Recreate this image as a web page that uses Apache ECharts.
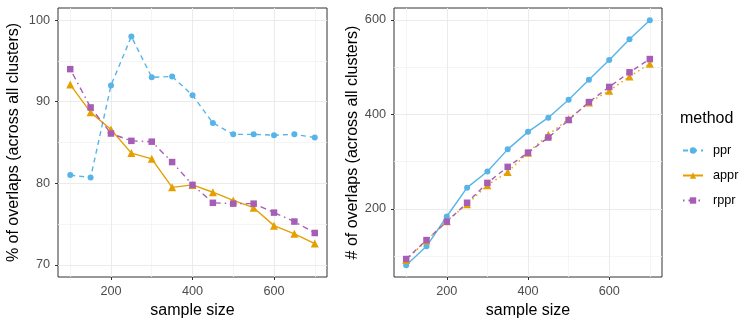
<!DOCTYPE html>
<html>
<head>
<meta charset="utf-8">
<script src="https://cdn.jsdelivr.net/npm/echarts@6/dist/echarts.min.js"></script>
<style>
  html, body { margin: 0; padding: 0; background: #fff; }
  #chart { width: 747px; height: 326px; }
</style>
</head>
<body>
<div id="chart"></div>
<script>
// sample sizes
var sampleSize = [100, 150, 200, 250, 300, 350, 400, 450, 500, 550, 600, 650, 700];

// % of overlaps (left panel)
var pctPpr  = [81.0, 80.7, 92.0, 98.0, 93.0, 93.1, 90.8, 87.4, 86.0, 86.0, 85.9, 86.0, 85.6];
var pctAppr = [92.1, 88.7, 86.6, 83.7, 83.0, 79.5, 79.8, 78.9, 77.9, 77.0, 74.8, 73.8, 72.6];
var pctRppr = [94.0, 89.3, 86.1, 85.2, 85.1, 82.6, 79.8, 77.6, 77.5, 77.5, 76.4, 75.3, 73.9];

// # of overlaps (right panel)
var numPpr  = [81, 121, 184, 245, 279, 326, 363, 393, 431, 473, 515, 559, 599];
var numAppr = [92, 133, 174, 210, 250, 278, 319, 357, 390, 425, 450, 480, 507];
var numRppr = [94, 134, 173, 213, 255, 289, 319, 351, 388, 426, 458, 489, 517];

// tick values
var xMajor = [200, 400, 600];
var xMinor = [100, 300, 500, 700];
var yLeftMajor = [70, 80, 90, 100];
var yLeftMinor = [75, 85, 95];
var yRightMajor = [200, 400, 600];
var yRightMinor = [100, 300, 500];

var methods = ['ppr', 'appr', 'rppr'];
var colors = { ppr: '#56B4E9', appr: '#E69F00', rppr: '#A55DB5' };
var symbols = { ppr: 'circle', appr: 'triangle', rppr: 'rect' };
var symSizes = { ppr: 6, appr: 8, rppr: 6.5 };

var FONT = '"Liberation Sans", Arial, sans-serif';

function pairs(ys) {
  return sampleSize.map(function (x, i) { return [x, ys[i]]; });
}

function majorAxis(gridIndex, min, max, ticks, name, nameGap, labelMargin) {
  return {
    type: 'value', gridIndex: gridIndex, min: min, max: max,
    name: name, nameLocation: 'middle', nameGap: nameGap,
    nameTextStyle: { color: '#000', fontSize: 16, fontFamily: FONT },
    axisLine: { show: false },
    axisTick: { show: true, length: 3, inside: false, customValues: ticks,
      lineStyle: { color: '#333333', width: 1 } },
    axisLabel: { show: true, customValues: ticks, color: '#4d4d4d', fontSize: 12.7,
      fontFamily: FONT, margin: labelMargin },
    splitLine: { show: true, lineStyle: { color: '#ebebeb', width: 1.1 } },
    z: 1
  };
}

function minorAxis(gridIndex, min, max, ticks) {
  return {
    type: 'value', gridIndex: gridIndex, min: min, max: max,
    axisLine: { show: false },
    axisTick: { show: false, customValues: ticks },
    axisLabel: { show: false, customValues: ticks },
    splitLine: { show: true, lineStyle: { color: '#f2f2f2', width: 0.8 } },
    z: 0
  };
}

var myChart = echarts.init(document.getElementById('chart'), null, { renderer: 'canvas' });

var leftDash = { ppr: [5, 4], appr: 'solid', rppr: [1.5, 4, 6, 4] };
var rightDash = { ppr: 'solid', appr: [1.5, 3.5], rppr: [5, 4] };
var leftData = { ppr: pctPpr, appr: pctAppr, rppr: pctRppr };
var rightData = { ppr: numPpr, appr: numAppr, rppr: numRppr };

var series = [];
methods.forEach(function (m) {
  series.push({
    name: m, type: 'line', xAxisIndex: 0, yAxisIndex: 0,
    data: pairs(leftData[m]),
    symbol: symbols[m], symbolSize: symSizes[m], showSymbol: true,
    itemStyle: { color: colors[m] },
    lineStyle: { color: colors[m], width: 1.4, type: leftDash[m] },
    emphasis: { disabled: true }, animation: false, z: 3
  });
});
methods.forEach(function (m) {
  series.push({
    name: m, type: 'line', xAxisIndex: 1, yAxisIndex: 1,
    data: pairs(rightData[m]),
    symbol: symbols[m], symbolSize: symSizes[m], showSymbol: true,
    itemStyle: { color: colors[m] },
    lineStyle: { color: colors[m], width: 1.4, type: rightDash[m] },
    emphasis: { disabled: true }, animation: false, z: 3
  });
});

myChart.setOption({
  backgroundColor: '#fff',
  animation: false,
  textStyle: { fontFamily: FONT },
  title: {
    text: 'method', left: 675, top: 106,
    textStyle: { fontSize: 16, fontWeight: 'normal', color: '#000', fontFamily: FONT }
  },
  legend: {
    data: methods, orient: 'vertical', left: 677, top: 139,
    itemWidth: 20, itemHeight: 8, itemGap: 12,
    textStyle: { fontSize: 12.7, color: '#000', fontFamily: FONT, padding: [0, 0, 0, 5] },
    selectedMode: false
  },
  grid: [
    { left: 58, top: 8, width: 269, height: 269, show: true, backgroundColor: '#fff',
      borderColor: '#333333', borderWidth: 1, containLabel: false },
    { left: 394, top: 8, width: 268, height: 269, show: true, backgroundColor: '#fff',
      borderColor: '#333333', borderWidth: 1, containLabel: false }
  ],
  xAxis: [
    majorAxis(0, 70, 730, xMajor, 'sample size', 26, 8),
    majorAxis(1, 70, 730, xMajor, 'sample size', 26, 8),
    minorAxis(0, 70, 730, xMinor),
    minorAxis(1, 70, 730, xMinor)
  ],
  yAxis: [
    majorAxis(0, 68.5, 101.5, yLeftMajor, '% of overlaps (across all clusters)', 36, 8),
    majorAxis(1, 56, 625, yRightMajor, '# of overlaps (across all clusters)', 31, 8),
    minorAxis(0, 68.5, 101.5, yLeftMinor),
    minorAxis(1, 56, 625, yRightMinor)
  ],
  series: series
});
</script>
</body>
</html>
